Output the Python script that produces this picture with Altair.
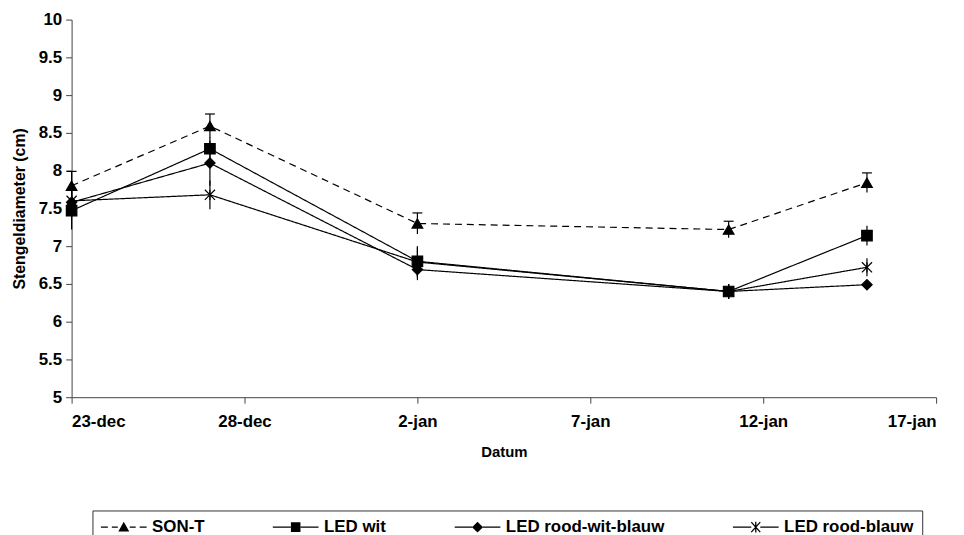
import altair as alt
import pandas as pd
import json
import math

# ---- data ----
series = ["SON-T", "LED wit", "LED rood-wit-blauw", "LED rood-blauw"]
dates = ["23-dec", "27-dec", "2-jan", "11-jan", "15-jan"]
day_offsets = [0, 4, 10, 19, 23]          # days since 23-dec
son_t = [7.80, 8.59, 7.30, 7.22, 7.84]
son_t_err = [0.19, 0.16, 0.14, 0.11, 0.13]
led_wit = [7.47, 8.29, 6.80, 6.40, 7.14]
led_wit_err = [0.25, 0.15, 0.20, 0.10, 0.13]
led_rwb = [7.58, 8.10, 6.69, 6.40, 6.49]
led_rwb_err = [0.20, 0.30, 0.14, 0.10, 0.05]
led_rb = [7.60, 7.68, 6.79, 6.40, 6.72]
led_rb_err = [0.20, 0.19, 0.20, 0.10, 0.12]
tick_days = [0, 5, 10, 15, 20, 25]
tick_labels = ["23-dec", "28-dec", "2-jan", "7-jan", "12-jan", "17-jan"]
y_ticks = [5, 5.5, 6, 6.5, 7, 7.5, 8, 8.5, 9, 9.5, 10]

values = [son_t, led_wit, led_rwb, led_rb]
errors = [son_t_err, led_wit_err, led_rwb_err, led_rb_err]
rows = []
for s, vals, errs in zip(series, values, errors):
    for d, lab, v, e in zip(day_offsets, dates, vals, errs):
        rows.append({"series": s, "day": d, "date": lab, "value": v,
                     "lo": v - e, "hi": v + e})
df = pd.DataFrame(rows)

FONT = "Liberation Sans, Arial, sans-serif"

# marker shapes in the plot
star = "M-1,-1L1,1M-1,1L1,-1M0,-1L0,1"
marker_shapes = ["triangle-up", "square", "diamond", star]
marker_sizes = [115, 105, 105, 115]

# ---- legend symbols (line stub + marker), built as filled outlines ----
LEG_SIZE = 196          # symbol "size" -> unit = 7 px
U = 7.0
C0 = 8.0                # symbol centre x inside the legend entry
MID = 23.0              # marker centre in px from entry start
LINE_W = 46.0
T = 1.3                 # stroke thickness in px


def P(x, y):
    return f"{(x - C0) / U:.3f},{y / U:.3f}"


def poly(pts):
    return "M" + "L".join(P(x, y) for x, y in pts) + "Z"


def bar(x0, y0, x1, y1, t=T):
    dx, dy = x1 - x0, y1 - y0
    L = math.hypot(dx, dy)
    nx, ny = -dy / L * t / 2, dx / L * t / 2
    return poly([(x0 + nx, y0 + ny), (x1 + nx, y1 + ny),
                 (x1 - nx, y1 - ny), (x0 - nx, y0 - ny)])


def hseg(x0, x1):
    return bar(x0, 0, x1, 0)


leg_sont = (hseg(0, 7) + hseg(11, 17) + hseg(29, 35) + hseg(39, LINE_W)
            + poly([(MID, -5.5), (MID + 5.5, 4.5), (MID - 5.5, 4.5)]))
leg_wit = (hseg(0, MID - 4.6) + hseg(MID + 4.6, LINE_W)
           + poly([(MID - 4.8, -4.8), (MID + 4.8, -4.8), (MID + 4.8, 4.8), (MID - 4.8, 4.8)]))
leg_rwb = (hseg(0, MID - 5.2) + hseg(MID + 5.2, LINE_W)
           + poly([(MID, -5.5), (MID + 5.5, 0), (MID, 5.5), (MID - 5.5, 0)]))
leg_rb = (hseg(0, MID - 4.5) + hseg(MID + 4.5, LINE_W)
          + bar(MID - 4.5, -5, MID + 4.5, 5)
          + bar(MID - 4.5, 5, MID + 4.5, -5)
          + bar(MID, -5.5, MID, 5.5))
legend_paths = [leg_sont, leg_wit, leg_rwb, leg_rb]

x_enc = alt.X("day:Q",
              scale=alt.Scale(domain=[0, 25], nice=False, zero=False),
              axis=alt.Axis(values=tick_days, title="Datum",
                            labelExpr=json.dumps(tick_labels) + "[round(datum.value/5)]",
                            grid=False, tickSize=6, labelPadding=10,
                            titlePadding=16, titleFontSize=15))
y_scale = alt.Scale(domain=[5, 10], nice=False, zero=False)
y_axis = alt.Axis(values=y_ticks, format="~g", title="Stengeldiameter (cm)",
                  grid=False, tickSize=6, labelPadding=4, titlePadding=11,
                  labelOverlap=False, titleFontSize=16)


def Y(field):
    return alt.Y(field, scale=y_scale, axis=y_axis)


base = alt.Chart(df)

err = base.mark_rule(color="black", strokeWidth=1.2).encode(
    x=x_enc, y=Y("lo:Q"), y2="hi:Q",
)

caps = base.transform_filter(alt.datum.series == "SON-T").mark_point(
    shape="M-1,0L1,0", size=100, color="black", strokeWidth=1.2, opacity=1
).encode(x=x_enc, y=Y("hi:Q"))

lines = base.mark_line(color="black", strokeWidth=1.2).encode(
    x=x_enc,
    y=Y("value:Q"),
    detail="series:N",
    strokeDash=alt.StrokeDash("series:N",
                              scale=alt.Scale(domain=series,
                                              range=[[7, 5], [1, 0], [1, 0], [1, 0]]),
                              legend=None),
)

markers = base.mark_point(filled=False, fill="black", stroke="black",
                          strokeWidth=1.2, opacity=1, fillOpacity=1).encode(
    x=x_enc,
    y=Y("value:Q"),
    shape=alt.Shape("series:N", scale=alt.Scale(domain=series, range=marker_shapes),
                    legend=None),
    size=alt.Size("series:N", scale=alt.Scale(domain=series, range=marker_sizes),
                  legend=None),
)

legend_layer = base.mark_point(filled=True, color="black", opacity=0).encode(
    x=x_enc,
    y=Y("value:Q"),
    shape=alt.Shape("series:N",
                    scale=alt.Scale(domain=series, range=legend_paths),
                    sort=series,
                    legend=alt.Legend(
                        title=None, orient="none", direction="horizontal",
                        legendX=21, legendY=494,
                        symbolSize=LEG_SIZE, symbolOpacity=1,
                        symbolFillColor="black", symbolStrokeWidth=0,
                        labelFont=FONT, labelFontSize=17, labelFontWeight="bold",
                        labelColor="black", labelOffset=35,
                        columnPadding=68, padding=8,
                        strokeColor="#333", fillColor="white",
                    )),
)

chart = alt.layer(err, caps, lines, markers, legend_layer).resolve_scale(
    shape="independent", size="independent"
).properties(
    width=870, height=380,
    autosize=alt.AutoSizeParams(type="none"),
    padding={"left": 64, "top": 10, "right": 20, "bottom": 137},
).configure_view(stroke=None).configure_axis(
    labelFont=FONT, labelFontSize=17, labelFontWeight="bold", labelColor="black",
    titleFont=FONT, titleFontWeight="bold", titleColor="black",
    domainColor="#444", tickColor="#444", domainWidth=1, tickWidth=1,
)

chart.save("out.html", embed_options={"renderer": "svg", "actions": False})
